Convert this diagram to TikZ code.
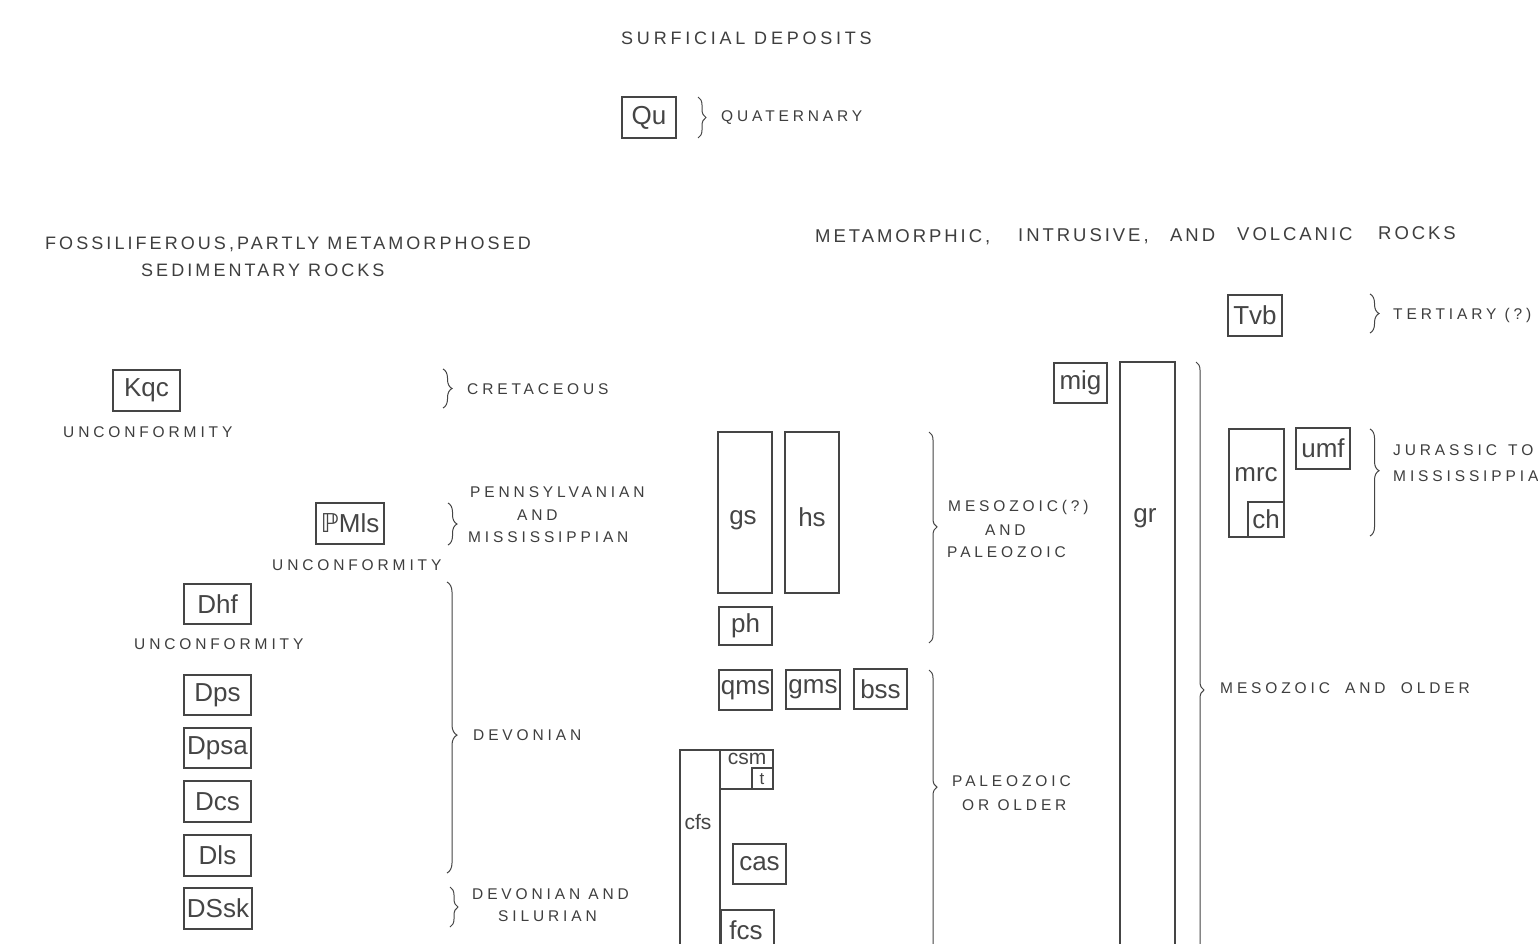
\documentclass[tikz,border=0pt]{standalone}
\usepackage{fontspec}
\setmainfont{Liberation Sans}
\newfontfamily\dejavu{DejaVu Sans}
\newfontfamily\labfont[LetterSpace=25]{Liberation Sans}
\newfontfamily\headfont[LetterSpace=17]{Liberation Sans}
\newfontfamily\headfontw[LetterSpace=21]{Liberation Sans}
\newfontfamily\headfontm[LetterSpace=16]{Liberation Sans}
\usetikzlibrary{decorations.pathreplacing}
\definecolor{ink}{HTML}{454545}
\definecolor{txt}{HTML}{3E3E3E}
\tikzset{
  unit/.style={draw=ink, line width=1.1pt, inner sep=0pt, text=ink,
    font=\fontsize{26}{26}\selectfont},
  small/.style={font=\fontsize{21}{21}\selectfont},
  lab/.style={text=txt, inner sep=0pt, anchor=west, font=\labfont\fontsize{15.5}{15.5}\selectfont},
  head/.style={text=txt, inner sep=0pt, anchor=west, font=\headfont\fontsize{18}{18}\selectfont},
  headw/.style={text=txt, inner sep=0pt, anchor=west, font=\headfontw\fontsize{18}{18}\selectfont},
  headm/.style={text=txt, inner sep=0pt, anchor=west, font=\headfontm\fontsize{18.5}{18.5}\selectfont},
  brc/.style n args={2}{draw=ink, line width=1pt, decorate,
    decoration={brace, amplitude=#1, aspect=#2}},
  ulab/.style={text=ink, inner sep=0pt, font=\fontsize{26}{26}\selectfont}
}
\newcommand{\ubox}[6]{%
  \node[unit, minimum width=#4-#2, minimum height=#5-#3] (#1) at ({(#2+#4)/2},{(#3+#5)/2}) {#6};}
\begin{document}
\begin{tikzpicture}[x=1pt,y=-1pt]
\useasboundingbox (0,0) rectangle (1538,943);
\clip (0,0) rectangle (1538,943);
\fill[white] (0,0) rectangle (1538,943);

% headings
\node[headw] (hsurf) at (621,38) {SURFICIAL DEPOSITS};
\node[head] (hfos1) at (45,244) {FOSSILIFEROUS,PARTLY METAMORPHOSED};
\node[head] (hfos2) at (141,270) {SEDIMENTARY ROCKS};
\node[headm] (hmet1) at (815,237) {METAMORPHIC,};
\node[headm] (hmet2) at (1018,236) {INTRUSIVE,};
\node[headm] (hmet3) at (1170,235) {AND};
\node[headm] (hmet4) at (1237,234) {VOLCANIC};
\node[headm] (hmet5) at (1378,233) {ROCKS};

% surficial
\ubox{qu}{622}{97}{676}{138}{Qu}
\coordinate (bqut) at (698,97); \coordinate (bqub) at (698,138);
\draw[brc={8pt}{0.5}] (bqut) -- (bqub);
\node[lab] (lqua) at (721,118) {QUATERNARY};

% left column
\ubox{kqc}{113}{370}{180}{411}{Kqc}
\node[lab] (unc1) at (63,432) {UNCONFORMITY};
\coordinate (bcrt) at (443,369); \coordinate (bcrb) at (443,408);
\draw[brc={9pt}{0.5}] (bcrt) -- (bcrb);
\node[lab] (lcre) at (467,389) {CRETACEOUS};

\ubox{pmls}{316}{503}{384}{544}{{\dejavu ℙ}Mls}
\node[lab] (unc2) at (272,565) {UNCONFORMITY};
\coordinate (bpmt) at (448,503); \coordinate (bpmb) at (448,545);
\draw[brc={9pt}{0.5}] (bpmt) -- (bpmb);
\node[lab] (lpen) at (470,492) {PENNSYLVANIAN};
\node[lab] (land1) at (517,515) {AND};
\node[lab] (lmis1) at (468,537) {MISSISSIPPIAN};

\ubox{dhf}{184}{584}{251}{624}{Dhf}
\node[lab] (unc3) at (134,644) {UNCONFORMITY};
\ubox{dps}{184}{675}{251}{715}{Dps}
\ubox{dpsa}{184}{728}{251}{768}{Dpsa}
\ubox{dcs}{184}{781}{251}{822}{Dcs}
\ubox{dls}{184}{835}{251}{876}{Dls}
\ubox{dssk}{184}{888}{252}{929}{DSsk}
\coordinate (bdvt) at (447,582); \coordinate (bdvb) at (447,873);
\draw[brc={10pt}{0.526}] (bdvt) -- (bdvb);
\node[lab] (ldev) at (473,735) {DEVONIAN};
\coordinate (bdst) at (450,887); \coordinate (bdsb) at (450,927);
\draw[brc={8pt}{0.5}] (bdst) -- (bdsb);
\node[lab] (ldev2) at (472,894) {DEVONIAN AND};
\node[lab] (lsil) at (498,916) {SILURIAN};

% middle column
\ubox{gs}{718}{432}{772}{593}{}
\node[ulab] (lgs) at (743,520) {gs};
\ubox{hs}{785}{432}{839}{593}{}
\node[ulab] (lhs) at (812,517) {hs};
\ubox{ph}{719}{607}{772}{645}{ph}
\coordinate (bmzt) at (929,432); \coordinate (bmzb) at (929,643);
\draw[brc={8pt}{0.45}] (bmzt) -- (bmzb);
\node[lab] (lmes1) at (948,507) {MESOZOIC(?)};
\node[lab] (land2) at (985,530) {AND};
\node[lab] (lpal1) at (947,552) {PALEOZOIC};

\ubox{qms}{719}{670}{772}{710}{qms}
\ubox{gms}{786}{670}{840}{709}{gms}
\ubox{bss}{854}{669}{907}{709}{bss}
\ubox{cfs}{680}{750}{720}{1000}{}
\node[ulab, small] (lcfs) at (698,822) {cfs};
\ubox{csm}{720}{750}{773}{789}{}
\node[ulab, small] (lcsm) at (747,759) {csm};
\ubox{t}{752}{768}{773}{789}{}
\node[ulab, font=\fontsize{17}{17}\selectfont] (lt) at (762,779) {t};
\ubox{cas}{733}{844}{786}{884}{cas}
\ubox{fcs}{721}{910}{774}{1000}{}
\node[ulab] (lfcs) at (746,930) {fcs};
\coordinate (bpot) at (929,670); \coordinate (bpob) at (929,1000);
\draw[brc={8pt}{0.355}] (bpot) -- (bpob);
\node[lab] (lpal2) at (952,781) {PALEOZOIC};
\node[lab] (lold) at (962,805) {OR OLDER};

% right column
\ubox{mig}{1054}{363}{1107}{403}{mig}
\ubox{gr}{1120}{362}{1175}{1000}{}
\node[ulab] (lgr) at (1145,518) {gr};
\coordinate (bmot) at (1196,362); \coordinate (bmob) at (1196,1018);
\draw[brc={8pt}{0.5}] (bmot) -- (bmob);
\node[lab] (lmao) at (1220,688) {MESOZOIC\hspace{7pt} AND\hspace{7pt} OLDER};

\ubox{tvb}{1228}{295}{1282}{336}{Tvb}
\coordinate (btet) at (1370,294); \coordinate (bteb) at (1370,333);
\draw[brc={9pt}{0.5}] (btet) -- (bteb);
\node[lab] (lter) at (1393,315) {TERTIARY (?)};

\ubox{mrc}{1229}{429}{1284}{537}{}
\node[ulab] (lmrc) at (1256,475) {mrc};
\ubox{ch}{1248}{502}{1284}{537}{ch}
\ubox{umf}{1296}{428}{1350}{469}{umf}
\coordinate (bjut) at (1370,429); \coordinate (bjub) at (1370,536);
\draw[brc={9pt}{0.39}] (bjut) -- (bjub);
\node[lab] (ljur) at (1393,450) {JURASSIC};
\node[lab] (ljur2) at (1508,450) {TO};
\node[lab] (lmis2) at (1393,476) {MISSISSIPPIAN};
\end{tikzpicture}
\end{document}
